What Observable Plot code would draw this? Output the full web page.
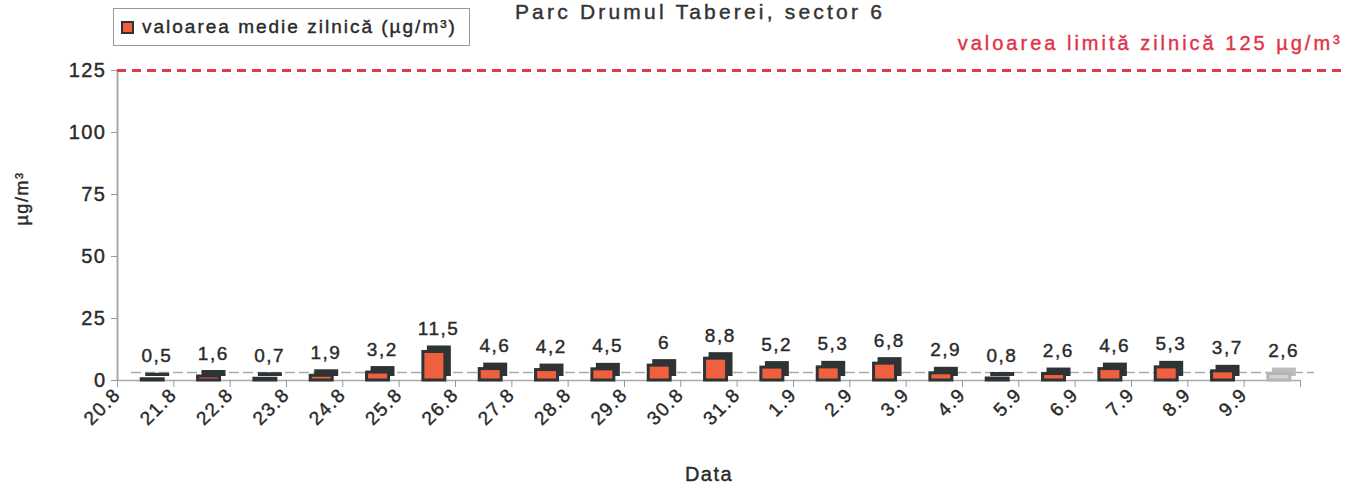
<!DOCTYPE html>
<html>
<head>
<meta charset="utf-8">
<script src="https://cdn.jsdelivr.net/npm/d3@7"></script>
<script src="https://cdn.jsdelivr.net/npm/@observablehq/plot@0.6"></script>
<style>
  body { margin: 0; background: #fff; font-family: "Liberation Sans", Arial, sans-serif; }
  #wrap { position: relative; width: 1352px; height: 489px; overflow: hidden; }
  #title { position: absolute; left: 0; width: 1400px; text-align: center; top: 0px; font-size: 21px; color: #333; line-height: normal; letter-spacing: 3.2px; -webkit-text-stroke: 0.4px #333; }
  #legend { position: absolute; left: 113px; top: 8px; width: 357px; height: 38px; border: 1px solid #999; background: #fff; box-sizing: border-box; font-size: 19px; color: #2a2a2a; display: flex; align-items: center; letter-spacing: 2px; -webkit-text-stroke: 0.4px #2a2a2a; }
  #legend .sw { width: 9px; height: 9px; background: #f0603f; border: 2px solid #2e3436; margin: 0 8px 0 7px; }
  #chart { position: absolute; left: 0; top: 0; }
  #chart svg text { letter-spacing: 1.5px; }
</style>
</head>
<body>
<div id="wrap">
  <div id="chart"></div>
  <div id="title">Parc Drumul Taberei, sector 6</div>
  <div id="legend"><span class="sw"></span>valoarea medie zilnică (µg/m³)</div>
</div>
<script>
const dates = ["20.8","21.8","22.8","23.8","24.8","25.8","26.8","27.8","28.8","29.8","30.8","31.8","1.9","2.9","3.9","4.9","5.9","6.9","7.9","8.9","9.9"];
const values = [0.5,1.6,0.7,1.9,3.2,11.5,4.6,4.2,4.5,6,8.8,5.2,5.3,6.8,2.9,0.8,2.6,4.6,5.3,3.7,2.6];
const yTicks = [0,25,50,75,100,125];
const limitValue = 125;
const limitLabel = "valoarea limită zilnică 125 µg/m³";
const yLabel = "µg/m³";
const xLabel = "Data";

const n = dates.length;
const data = dates.map((d, i) => ({i, date: d, value: values[i], last: i === n - 1}));
const fmt = v => String(v).replace(".", ",");
const dark = "#2e3436";
const orange = "#f0603f";

const chart = Plot.plot({
  width: 1352,
  height: 489,
  marginLeft: 117,
  marginRight: 52,
  marginTop: 70,
  marginBottom: 109,
  style: {fontFamily: "'Liberation Sans', Arial, sans-serif", color: "#2a2a2a", background: "transparent"},
  x: {domain: [0, n], axis: null},
  y: {domain: [0, 125], axis: null},
  marks: [
    // floor
    Plot.ruleY([0], {stroke: "#aaa", strokeWidth: 1.5, dx: 14, dy: -8, strokeDasharray: "10,4"}),
    Plot.ruleY([0], {stroke: "#aaa", strokeWidth: 1.5}),
    // y axis line
    Plot.ruleX([0], {stroke: "#a8a8a8", strokeWidth: 2}),
    Plot.axisY({ticks: yTicks, tickSize: 6, tickPadding: 5, fontSize: 20, stroke: "#999", label: null}),
    Plot.axisX({ticks: d3.range(n + 1), tickFormat: i => dates[i] ?? "", tickRotate: -45, tickSize: 7, tickPadding: 4, fontSize: 19, stroke: "#999", label: null}),
    // limit line
    Plot.ruleY([limitValue], {x1: 0, x2: n + 0.75, stroke: "#e63946", strokeWidth: 3, strokeDasharray: "9,6", clip: false}),
    Plot.text([limitLabel], {x: n + 0.75, y: limitValue, textAnchor: "end", dy: -27, fill: "#e0344a", fontSize: 20}),
    // 3D bar depth
    Plot.rect(data, {x1: d => d.i + 0.43, x2: d => d.i + 0.82, y1: 0, y2: "value", dx: 5, dy: -5,
      fill: d => d.last ? "#bdbdbd" : dark, stroke: d => d.last ? "#bdbdbd" : dark, strokeWidth: 2}),
    // bar front
    Plot.rect(data, {x1: d => d.i + 0.43, x2: d => d.i + 0.82, y1: 0, y2: "value",
      fill: d => d.last ? "#d4d4d4" : orange, stroke: d => d.last ? "#b5b5b5" : dark, strokeWidth: 3}),
    // value labels
    Plot.text(data, {x: d => d.i + 0.7, y: "value", text: d => fmt(d.value), dy: -23, fontSize: 19, fill: "#2a2a2a"}),
    // axis titles
    Plot.text([yLabel], {frameAnchor: "left", rotate: -90, dx: -95, fontSize: 18, fill: "#2a2a2a"}),
    Plot.text([xLabel], {frameAnchor: "bottom", dy: 100, fontSize: 20, fill: "#2a2a2a"})
  ]
});
document.getElementById("chart").appendChild(chart);
d3.select(chart).selectAll("text").each(function() {
  const f = getComputedStyle(this).fill;
  d3.select(this).style("stroke", f).style("stroke-width", "0.4px");
});
d3.select(chart).selectAll("text").filter(function() { return this.textContent === limitLabel; })
  .style("letter-spacing", "3px");
</script>
</body>
</html>
